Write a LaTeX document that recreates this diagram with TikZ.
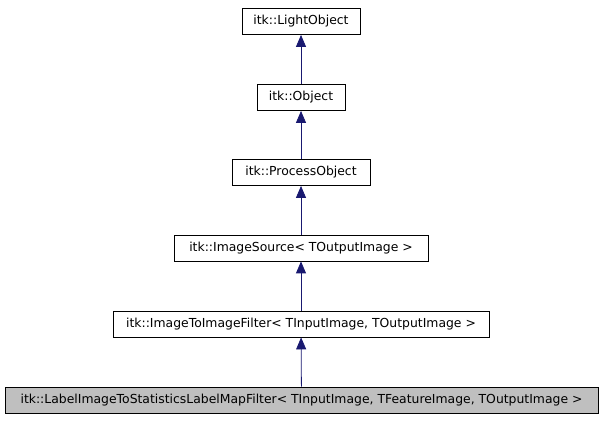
\documentclass[tikz,border=0pt]{standalone}
\usepackage{fontspec}
\setmainfont{DejaVu Sans}
\usetikzlibrary{arrows.meta}
\definecolor{edge}{RGB}{25,25,112}
\tikzset{
  cls/.style={draw=black, fill=white, minimum height=26pt, inner sep=0pt, font=\fontsize{12.4}{14}\selectfont, line width=0.8pt},
  inh/.style={draw=edge, line width=0.8pt, -{Triangle[length=12pt,width=10pt,fill=edge]}},
}
\begin{document}
\begin{tikzpicture}[x=1pt,y=-1pt]
\useasboundingbox (0,0) rectangle (603,427);
\node[cls, minimum width=118pt] (a) at (301,21.5) {itk::LightObject};
\node[cls, minimum width=88pt] (b) at (301,97.5) {itk::Object};
\node[cls, minimum width=138pt] (c) at (301,172.5) {itk::ProcessObject};
\node[cls, minimum width=254pt] (d) at (301,248) {itk::ImageSource< TOutputImage >};
\node[cls, minimum width=376pt] (e) at (301,324) {itk::ImageToImageFilter< TInputImage, TOutputImage >};
\node[cls, minimum width=593pt, fill={rgb,255:red,191;green,191;blue,191}] (f) at (301.5,400) {itk::LabelImageToStatisticsLabelMapFilter< TInputImage, TFeatureImage, TOutputImage >};
\draw[inh] (b) -- (a);
\draw[inh] (c) -- (b);
\draw[inh] (d) -- (c);
\draw[inh] (e) -- (d);
\draw[inh] (f) -- (e);
\end{tikzpicture}
\end{document}
